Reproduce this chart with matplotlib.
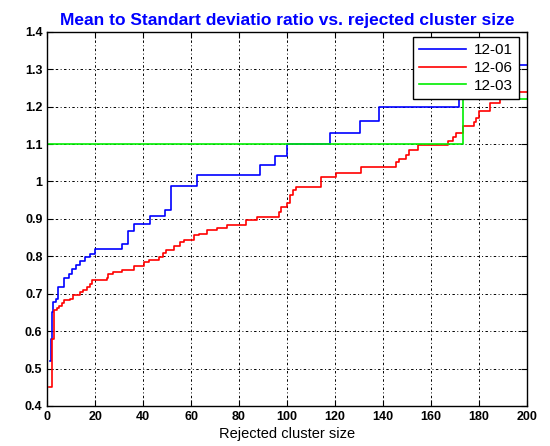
import matplotlib
matplotlib.use('Agg')
import matplotlib.pyplot as plt

plt.rcParams['font.family'] = ['Liberation Sans', 'DejaVu Sans']

# 12-01 (blue) step breakpoints
x_1201 = [1, 1.5, 2, 2.5, 3.5, 4.6, 7, 9.2, 10.5, 12, 13.7, 15.8, 17.9, 20, 31.1, 33.5, 36,
          42.7, 49.2, 51.6, 62.5, 88.7, 95, 100, 118, 130.3, 138.5, 171.7, 176, 182, 188, 193, 200]
y_1201 = [0.52, 0.58, 0.651, 0.678, 0.685, 0.718, 0.742, 0.754, 0.765, 0.776, 0.788, 0.799, 0.807,
          0.82, 0.834, 0.867, 0.887, 0.907, 0.923, 0.989, 1.016, 1.044, 1.069, 1.099, 1.13, 1.161,
          1.198, 1.23, 1.25, 1.28, 1.30, 1.311, 1.311]

# 12-06 (red)
x_1206 = [0.8, 1.8, 2.8, 3.9, 5.0, 6.0, 7.0, 9.5, 10.9, 13.7, 14.8, 16.5, 17.9, 18.6, 24.8, 25.5,
          27.6, 31.1, 36, 40.2, 42.3, 46.4, 48.3, 49.7, 52.7, 55.2, 56.9, 61.1, 63.2, 66.7, 70.9,
          75.1, 83.1, 87.6, 96.7, 97.4, 100.2, 101.3, 102.3, 103.6, 114.1, 120.4, 130.8, 145.5,
          146.9, 149.7, 151.1, 154.8, 167.1, 169.2, 170.6, 173.4, 178, 178.7, 180.3, 184.5, 189,
          194, 200]
y_1206 = [0.45, 0.579, 0.656, 0.663, 0.667, 0.674, 0.683, 0.687, 0.696, 0.705, 0.711, 0.717, 0.727,
          0.738, 0.743, 0.752, 0.758, 0.764, 0.773, 0.785, 0.791, 0.798, 0.809, 0.818, 0.827, 0.838,
          0.844, 0.856, 0.86, 0.869, 0.876, 0.885, 0.896, 0.905, 0.918, 0.931, 0.942, 0.963, 0.976,
          0.985, 1.011, 1.022, 1.038, 1.051, 1.06, 1.071, 1.083, 1.098, 1.109, 1.118, 1.129, 1.149,
          1.158, 1.17, 1.189, 1.211, 1.225, 1.238, 1.238]

# 12-03 (green)
x_1203 = [0, 173.4, 200]
y_1203 = [1.1, 1.22, 1.22]

x_ticks = list(range(0, 201, 20))
y_ticks = [0.4, 0.5, 0.6, 0.7, 0.8, 0.9, 1.0, 1.1, 1.2, 1.3, 1.4]
y_labels = ['0.4', '0.5', '0.6', '0.7', '0.8', '0.9', '1', '1.1', '1.2', '1.3', '1.4']

fig = plt.figure(figsize=(5.5, 4.46), dpi=100)
ax = fig.add_axes([0.086, 0.0897, 0.8716, 0.839])

ax.plot(x_1201, y_1201, drawstyle='steps-post', color='#0000ff', linewidth=1.2, label='12-01')
ax.plot(x_1206, y_1206, drawstyle='steps-post', color='#ff0000', linewidth=1.2, label='12-06')
ax.plot(x_1203, y_1203, drawstyle='steps-post', color='#00ee00', linewidth=1.2, label='12-03')

ax.set_xlim(0, 200)
ax.set_ylim(0.4, 1.4)
ax.set_xticks(x_ticks)
ax.set_yticks(y_ticks)
ax.set_yticklabels(y_labels)
ax.grid(True, color='black', linestyle=(0, (2.5, 2.5, 1, 2.5)), linewidth=0.7)
ax.tick_params(direction='in', top=True, right=True, length=4, width=0.8,
               labelsize=9)
for lab in ax.get_xticklabels() + ax.get_yticklabels():
    lab.set_fontweight('bold')
for sp in ax.spines.values():
    sp.set_linewidth(1.0)

ax.set_xlabel('Rejected cluster size', fontsize=10.5, labelpad=3)
ax.set_title('Mean to Standart deviatio ratio vs. rejected cluster size',
             color='#0000ff', fontweight='bold', fontsize=12.5, pad=5)

leg = ax.legend(loc='upper right', bbox_to_anchor=(0.984, 0.986), borderaxespad=0,
                fontsize=11, fancybox=False, framealpha=1, edgecolor='black',
                handlelength=3.1, handletextpad=0.5, borderpad=0.4, labelspacing=0.25)
leg.get_frame().set_linewidth(1.0)

fig.savefig('out.png', dpi=100)
